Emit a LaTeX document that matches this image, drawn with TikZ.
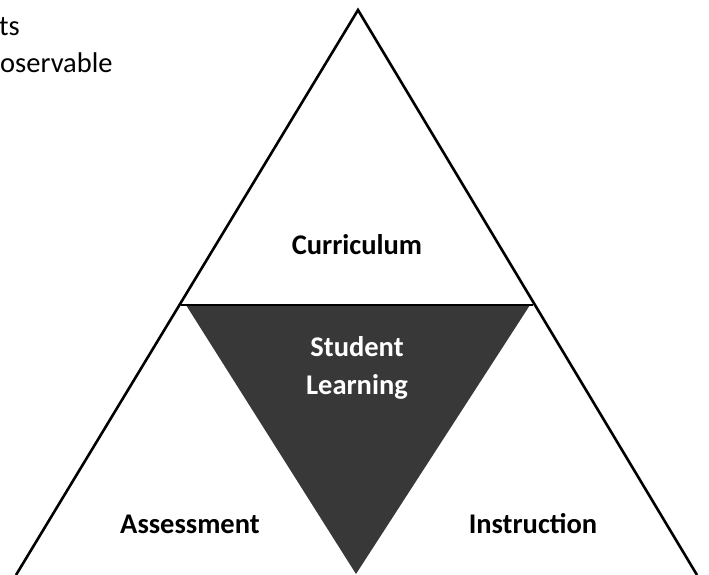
\documentclass[tikz,border=0pt]{standalone}
\usepackage{fontspec}
\setmainfont{Carlito}
\definecolor{darkfill}{HTML}{383838}
\begin{document}
\begin{tikzpicture}[x=1pt,y=-1pt,
  edge/.style={line width=2.6pt,line join=miter},
  lbl/.style={font=\bfseries\fontsize{28.5}{38}\selectfont,inner sep=0pt},
  side/.style={font=\fontsize{28.5}{34}\selectfont,inner sep=0pt,anchor=west,align=left}]
\useasboundingbox (0,0) rectangle (709,574);
\coordinate (apex) at (358,10);
\coordinate (bl) at (16,575);
\coordinate (br) at (697,575);
\coordinate (ml) at (181,305);
\coordinate (mr) at (533,305);
\coordinate (dl) at (186,305);
\coordinate (dr) at (530,305);
\coordinate (dt) at (356,574);
\fill[darkfill] (dl) -- (dr) -- (dt) -- cycle;
\draw[edge] (bl) -- (apex) -- (br);
\draw[line width=2.2pt] (ml) -- (mr);
\node[lbl] (cur) at (357,245) {Curriculum};
\node[lbl,text=white,align=center] (stu) at (357,368) {Student\\Learning};
\node[lbl] (ass) at (190,524) {Assessment};
\node[lbl] (ins) at (533,524) {Instruction};
\node[side] (ts) at (-1,27) {ts};
\node[side] (obs) at (0,63) {oservable};
\end{tikzpicture}
\end{document}
